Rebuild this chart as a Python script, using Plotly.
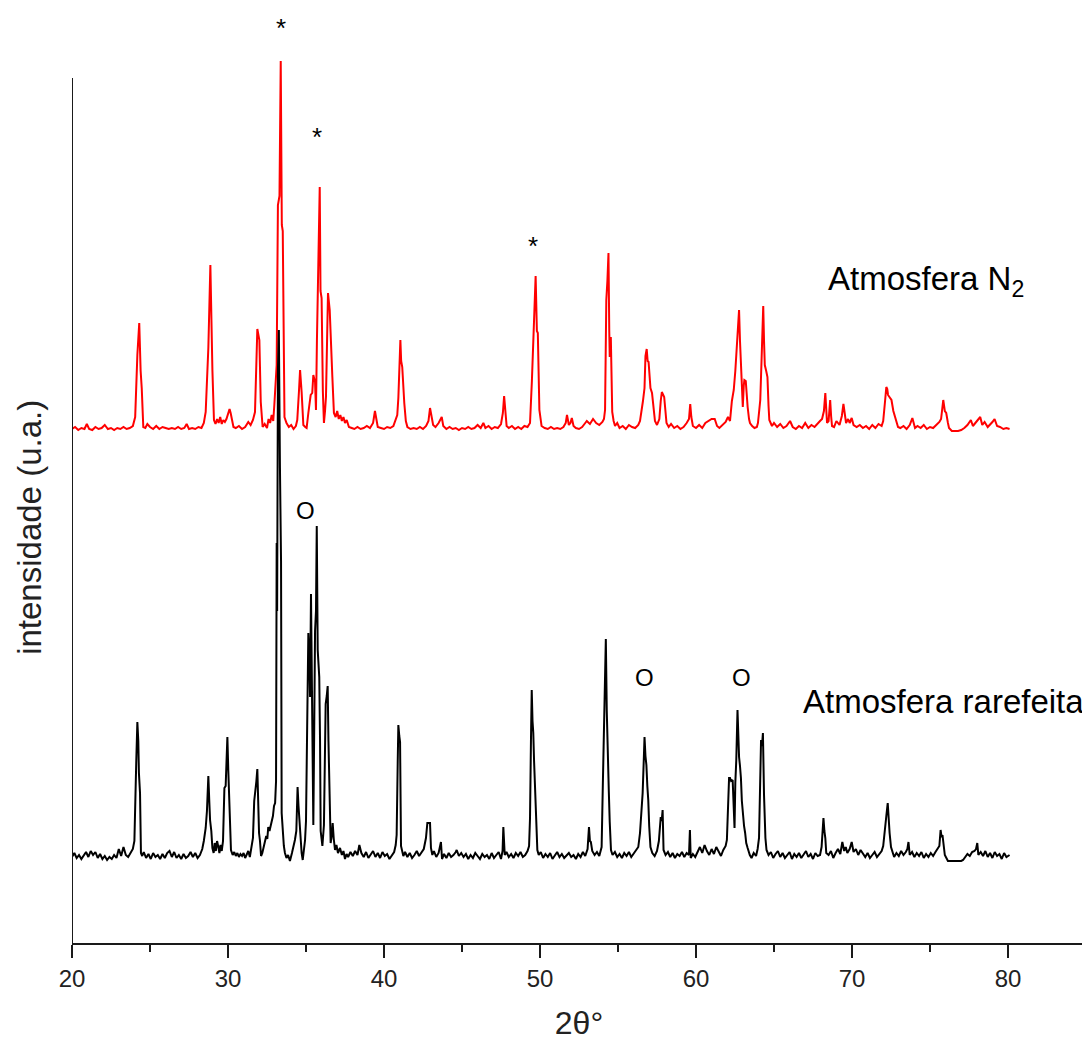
import plotly.graph_objects as go

# ---------------- data ----------------
# (2theta in degrees, intensity above the pattern's own baseline, arbitrary units)
red_pattern = [  # Atmosfera N2
    (20.0, 2), (20.2, 4), (20.4, 1), (20.6, 3), (20.8, 2), (20.95, 7), (21.1, 2), (21.3, 1),
    (21.5, 4), (21.7, 2), (21.9, 3), (22.1, 6), (22.3, 2), (22.5, 3), (22.7, 1), (22.9, 3),
    (23.1, 2), (23.3, 4), (23.5, 2), (23.7, 3), (23.9, 5),
    (24.05, 14), (24.19, 76), (24.31, 108), (24.40, 60), (24.47, 43), (24.57, 4), (24.7, 3),
    (24.83, 7), (25.0, 4), (25.2, 2), (25.4, 5), (25.6, 2), (25.8, 4), (26.0, 3), (26.2, 2),
    (26.4, 3), (26.6, 2), (26.8, 4), (27.0, 2), (27.2, 3), (27.35, 7), (27.5, 2), (27.7, 3),
    (27.9, 2), (28.1, 4), (28.3, 3), (28.45, 8),
    (28.57, 19), (28.74, 83), (28.87, 166), (28.93, 110), (29.0, 61), (29.10, 11), (29.2, 7),
    (29.3, 12), (29.4, 8), (29.5, 14), (29.6, 7), (29.7, 11), (29.8, 9), (29.9, 12), (30.0, 16),
    (30.1, 22), (30.17, 18), (30.25, 12), (30.35, 4), (30.5, 3), (30.7, 5), (30.9, 2), (31.1, 4),
    (31.3, 9), (31.45, 6), (31.6, 11),
    (31.73, 19), (31.88, 102), (31.95, 95), (32.01, 91), (32.10, 29), (32.22, 4), (32.35, 7),
    (32.5, 3), (32.6, 12), (32.7, 8), (32.8, 16), (32.9, 10), (32.97, 26), (33.12, 66),
    (33.20, 226), (33.30, 235), (33.38, 370), (33.45, 206), (33.51, 200), (33.57, 30),
    (33.62, 14), (33.75, 8), (33.9, 4), (34.05, 6), (34.2, 2), (34.35, 5), (34.44, 11),
    (34.55, 40), (34.62, 61), (34.72, 39), (34.78, 15), (34.83, 6), (34.95, 4), (35.04, 3),
    (35.15, 18), (35.30, 36), (35.40, 38), (35.47, 56), (35.58, 49), (35.64, 21), (35.70, 90),
    (35.75, 136), (35.88, 244), (35.93, 140), (36.0, 133), (36.08, 40), (36.15, 8), (36.22, 20),
    (36.28, 34), (36.35, 90), (36.41, 138), (36.52, 121), (36.60, 80), (36.69, 54), (36.79, 18),
    (36.9, 14), (37.0, 20), (37.1, 12), (37.2, 16), (37.3, 10), (37.4, 14), (37.5, 8),
    (37.61, 11), (37.75, 4), (37.93, 3), (38.1, 2), (38.3, 4), (38.5, 2), (38.7, 3), (38.9, 5),
    (39.1, 3), (39.3, 8), (39.42, 20), (39.52, 10), (39.6, 4), (39.8, 3), (40.0, 2), (40.2, 4),
    (40.4, 3), (40.6, 5), (40.75, 12),
    (40.85, 16), (40.92, 33), (41.05, 91), (41.10, 70), (41.17, 64), (41.30, 28), (41.4, 10),
    (41.5, 4), (41.7, 2), (41.9, 3), (42.1, 2), (42.3, 4), (42.5, 2), (42.7, 5), (42.85, 10),
    (42.95, 23), (43.05, 12), (43.15, 6), (43.3, 4), (43.5, 8), (43.7, 14), (43.8, 5), (44.0, 2),
    (44.2, 4), (44.4, 2), (44.6, 3), (44.8, 1), (45.0, 3), (45.2, 2), (45.4, 4), (45.6, 2),
    (45.8, 3), (46.0, 6), (46.2, 3), (46.37, 8), (46.5, 3), (46.7, 5), (46.9, 2), (47.1, 4),
    (47.3, 3), (47.5, 7),
    (47.62, 18), (47.70, 35), (47.78, 15), (47.86, 5), (48.0, 3), (48.2, 5), (48.4, 2), (48.6, 4),
    (48.8, 2), (49.0, 5), (49.2, 4), (49.36, 8),
    (49.48, 50), (49.56, 84), (49.66, 140), (49.72, 155), (49.80, 100), (49.86, 98), (49.96, 21),
    (50.1, 5), (50.3, 3), (50.5, 2), (50.7, 4), (50.9, 2), (51.1, 3), (51.3, 2), (51.5, 4),
    (51.65, 8), (51.73, 16), (51.85, 6), (51.95, 8), (52.04, 13), (52.15, 5), (52.3, 3),
    (52.5, 2), (52.7, 4), (52.9, 8), (53.0, 10), (53.2, 7), (53.4, 12), (53.6, 8), (53.8, 6),
    (54.0, 9), (54.1, 12),
    (54.17, 21), (54.25, 131), (54.32, 150), (54.39, 178), (54.44, 100), (54.47, 74), (54.54, 94),
    (54.63, 19), (54.72, 10), (54.81, 5), (54.95, 8), (55.1, 3), (55.3, 5), (55.5, 2), (55.7, 6),
    (55.9, 4), (56.1, 3), (56.3, 6), (56.41, 10), (56.5, 18),
    (56.6, 30), (56.70, 43), (56.76, 75), (56.84, 82), (56.90, 70), (56.96, 69), (57.08, 43),
    (57.18, 38), (57.28, 20), (57.37, 10), (57.5, 6), (57.65, 12), (57.74, 30), (57.81, 39),
    (57.96, 34), (58.05, 20), (58.11, 8), (58.25, 4), (58.4, 7), (58.6, 3), (58.8, 5), (59.0, 2),
    (59.2, 4), (59.4, 8), (59.55, 12), (59.63, 27), (59.70, 14), (59.8, 5), (60.0, 3), (60.2, 6),
    (60.4, 3), (60.6, 8), (60.8, 10), (61.0, 12), (61.2, 12), (61.35, 5), (61.5, 3), (61.7, 6),
    (61.9, 9), (62.05, 14), (62.18, 10),
    (62.3, 30), (62.42, 41), (62.52, 60), (62.59, 78), (62.70, 105), (62.76, 121), (62.82, 90),
    (62.88, 64), (63.0, 24), (63.06, 45), (63.10, 51), (63.19, 50), (63.25, 30), (63.31, 24),
    (63.40, 12), (63.46, 8), (63.6, 5), (63.75, 3), (63.9, 4), (63.97, 8),
    (64.05, 20), (64.12, 31), (64.2, 70), (64.31, 125), (64.36, 90), (64.41, 66), (64.50, 60),
    (64.58, 54), (64.65, 25), (64.70, 11), (64.87, 5), (65.0, 8), (65.2, 4), (65.4, 7), (65.6, 3),
    (65.8, 5), (66.03, 10), (66.2, 4), (66.4, 2), (66.6, 5), (66.8, 3), (67.0, 8), (67.2, 3),
    (67.4, 6), (67.6, 4), (67.8, 8), (67.95, 10), (68.08, 12),
    (68.2, 20), (68.29, 38), (68.36, 15), (68.40, 8), (68.5, 10), (68.60, 31), (68.66, 15),
    (68.72, 5), (68.85, 4), (69.0, 10), (69.2, 6), (69.35, 15), (69.45, 27), (69.55, 14),
    (69.62, 8), (69.75, 12), (69.85, 8), (69.98, 13), (70.1, 6), (70.3, 4), (70.5, 6), (70.7, 3),
    (70.9, 5), (71.1, 2), (71.3, 6), (71.5, 3), (71.7, 7), (71.9, 5), (72.0, 10),
    (72.12, 30), (72.20, 44), (72.26, 42), (72.31, 36), (72.40, 34), (72.53, 31), (72.65, 20),
    (72.77, 14), (72.95, 4), (73.1, 3), (73.3, 5), (73.5, 2), (73.7, 6), (73.87, 13), (73.95, 8),
    (74.04, 3), (74.2, 5), (74.4, 3), (74.6, 6), (74.8, 2), (75.0, 4), (75.2, 3), (75.4, 6),
    (75.6, 9), (75.71, 12), (75.80, 25), (75.85, 31), (75.95, 20), (76.04, 18), (76.15, 8),
    (76.22, 3), (76.4, 0), (76.6, 0), (76.8, 0), (77.0, 1), (77.2, 3), (77.4, 6), (77.62, 11),
    (77.75, 5), (77.9, 8), (78.05, 10), (78.22, 14), (78.35, 6), (78.5, 9), (78.7, 4), (78.9, 7),
    (79.0, 9), (79.14, 12), (79.3, 5), (79.49, 4), (79.7, 2), (79.9, 3), (80.1, 2),
]

black_pattern = [  # Atmosfera rarefeita
    (20.0, 4), (20.15, 8), (20.3, 3), (20.45, 6), (20.6, 2), (20.75, 5), (20.9, 9), (21.05, 4),
    (21.2, 10), (21.35, 6), (21.5, 9), (21.65, 3), (21.8, 7), (21.95, 2), (22.1, 5), (22.25, 1),
    (22.4, 4), (22.55, 2), (22.7, 6), (22.85, 3), (23.0, 12), (23.15, 5), (23.3, 14), (23.45, 6),
    (23.6, 4), (23.75, 8), (23.9, 12), (24.0, 20),
    (24.04, 64), (24.12, 100), (24.19, 139), (24.25, 120), (24.29, 88), (24.36, 68), (24.42, 8),
    (24.5, 5), (24.6, 9), (24.75, 3), (24.9, 7), (25.05, 2), (25.2, 8), (25.35, 4), (25.5, 6),
    (25.65, 2), (25.8, 7), (25.95, 3), (26.1, 8), (26.25, 10), (26.4, 4), (26.55, 9), (26.7, 3),
    (26.85, 6), (27.0, 2), (27.15, 7), (27.3, 3), (27.45, 5), (27.6, 9), (27.75, 4), (27.9, 8),
    (28.05, 3), (28.2, 6), (28.35, 12), (28.45, 20),
    (28.57, 33), (28.65, 50), (28.74, 85), (28.80, 60), (28.85, 41), (28.93, 30), (29.0, 13),
    (29.08, 8), (29.15, 18), (29.22, 10), (29.3, 20), (29.38, 14), (29.45, 8), (29.52, 16),
    (29.6, 10), (29.68, 20),
    (29.77, 73), (29.85, 75), (29.96, 124), (30.02, 90), (30.08, 64), (30.14, 40), (30.19, 11),
    (30.3, 6), (30.4, 9), (30.5, 5), (30.6, 8), (30.7, 4), (30.8, 7), (30.9, 5), (31.0, 8),
    (31.1, 3), (31.2, 7), (31.3, 10), (31.4, 4), (31.5, 12), (31.6, 23),
    (31.68, 60), (31.75, 68), (31.82, 80), (31.88, 92), (31.93, 50), (31.99, 28), (32.05, 20),
    (32.12, 5), (32.2, 8), (32.3, 15), (32.37, 19), (32.45, 25), (32.52, 22), (32.58, 34),
    (32.66, 30), (32.74, 36), (32.80, 38), (32.88, 45), (32.95, 55), (33.02, 58), (33.08, 80),
    (33.12, 318), (33.15, 250), (33.2, 490), (33.26, 531), (33.33, 393), (33.40, 300),
    (33.44, 48), (33.50, 28), (33.58, 15), (33.65, 8), (33.75, 3), (33.85, 6), (33.97, 0),
    (34.1, 8), (34.2, 14), (34.29, 21), (34.38, 30), (34.46, 74), (34.52, 55), (34.57, 41),
    (34.66, 13), (34.72, 8), (34.79, 1), (34.87, 15), (34.94, 21), (35.0, 40), (35.04, 91),
    (35.1, 160), (35.15, 228), (35.22, 200), (35.26, 164), (35.32, 267), (35.36, 200),
    (35.41, 164), (35.47, 36), (35.52, 120), (35.58, 230), (35.64, 250), (35.69, 335),
    (35.75, 211), (35.80, 200), (35.85, 184), (35.9, 120), (35.94, 30), (36.0, 22), (36.05, 15),
    (36.15, 36), (36.2, 100), (36.26, 157), (36.33, 165), (36.39, 175), (36.44, 120),
    (36.49, 88), (36.54, 40), (36.58, 18), (36.65, 25), (36.71, 38), (36.78, 22), (36.86, 11),
    (36.95, 16), (37.05, 8), (37.18, 13), (37.3, 6), (37.4, 10), (37.5, 2), (37.6, 7), (37.7, 4),
    (37.85, 9), (38.0, 5), (38.15, 10), (38.3, 6), (38.42, 16), (38.55, 8), (38.7, 4),
    (38.85, 9), (39.0, 3), (39.15, 7), (39.3, 10), (39.45, 4), (39.6, 8), (39.75, 3), (39.9, 9),
    (40.05, 5), (40.2, 7), (40.35, 2), (40.5, 6), (40.65, 9), (40.75, 16),
    (40.81, 26), (40.88, 100), (40.92, 136), (40.98, 125), (41.03, 119), (41.09, 15),
    (41.24, 5), (41.35, 9), (41.5, 4), (41.65, 8), (41.8, 3), (41.95, 6), (42.1, 10), (42.25, 5),
    (42.4, 8), (42.55, 12), (42.69, 23), (42.78, 38), (42.84, 38), (42.95, 38), (43.01, 13),
    (43.1, 6), (43.2, 10), (43.35, 4), (43.5, 8), (43.65, 19), (43.72, 2), (43.85, 7), (44.0, 3),
    (44.15, 8), (44.3, 4), (44.45, 6), (44.6, 9), (44.66, 11), (44.8, 5), (44.95, 8), (45.1, 4),
    (45.25, 7), (45.4, 2), (45.55, 6), (45.7, 3), (45.85, 8), (46.0, 5), (46.15, 2), (46.3, 7),
    (46.45, 4), (46.6, 6), (46.75, 2), (46.9, 8), (47.05, 3), (47.2, 6), (47.35, 9), (47.5, 2),
    (47.6, 10), (47.65, 34), (47.70, 20), (47.74, 6), (47.85, 9), (48.0, 4), (48.15, 7),
    (48.3, 3), (48.45, 8), (48.6, 5), (48.75, 9), (48.9, 4), (49.05, 6), (49.2, 10), (49.3, 15),
    (49.36, 43), (49.42, 120), (49.47, 171), (49.52, 140), (49.57, 128), (49.62, 100),
    (49.68, 71), (49.75, 30), (49.83, 11), (49.92, 6), (50.05, 9), (50.2, 3), (50.35, 7),
    (50.5, 4), (50.65, 8), (50.8, 2), (50.95, 6), (51.1, 9), (51.25, 4), (51.4, 7), (51.55, 3),
    (51.7, 6), (51.85, 8), (52.0, 4), (52.15, 6), (52.3, 2), (52.45, 7), (52.6, 4), (52.75, 9),
    (52.9, 5), (53.05, 12), (53.14, 34), (53.2, 20), (53.26, 19), (53.35, 10), (53.5, 6),
    (53.65, 9), (53.8, 5), (53.95, 14),
    (54.03, 78), (54.12, 150), (54.22, 222), (54.28, 150), (54.35, 118), (54.41, 70),
    (54.47, 39), (54.55, 11), (54.65, 6), (54.8, 9), (54.95, 4), (55.1, 7), (55.25, 3),
    (55.4, 8), (55.55, 5), (55.7, 9), (55.85, 4), (56.0, 7), (56.15, 10), (56.3, 14), (56.41, 28),
    (56.5, 50), (56.58, 68), (56.65, 100), (56.70, 124), (56.76, 105), (56.82, 96), (56.88, 75),
    (56.94, 61), (57.0, 35), (57.08, 14), (57.2, 8), (57.35, 5), (57.5, 10), (57.62, 20),
    (57.74, 44), (57.80, 40), (57.86, 51), (57.92, 11), (58.05, 6), (58.2, 9), (58.35, 4),
    (58.5, 8), (58.65, 3), (58.8, 7), (58.95, 5), (59.1, 9), (59.25, 4), (59.4, 8), (59.55, 6),
    (59.61, 31), (59.66, 3), (59.8, 7), (59.95, 4), (60.1, 9), (60.25, 14), (60.4, 8),
    (60.55, 16), (60.7, 10), (60.85, 6), (61.0, 12), (61.15, 7), (61.3, 14), (61.45, 9),
    (61.6, 5), (61.75, 11), (61.9, 15), (61.98, 21),
    (62.05, 50), (62.12, 83), (62.18, 83), (62.25, 80), (62.35, 81), (62.42, 60), (62.47, 33),
    (62.52, 78), (62.58, 100), (62.66, 151), (62.72, 110), (62.76, 104), (62.82, 95),
    (62.88, 83), (62.94, 60), (63.0, 48), (63.08, 35), (63.15, 28), (63.22, 18), (63.31, 13),
    (63.45, 6), (63.56, 3), (63.7, 8), (63.85, 5), (63.95, 12), (64.04, 23),
    (64.1, 80), (64.17, 121), (64.23, 115), (64.29, 128), (64.36, 66), (64.41, 40), (64.45, 23),
    (64.52, 11), (64.65, 6), (64.8, 9), (64.95, 3), (65.1, 7), (65.25, 10), (65.4, 4), (65.55, 8),
    (65.7, 3), (65.85, 6), (66.0, 9), (66.15, 2), (66.3, 7), (66.45, 4), (66.6, 8), (66.75, 3),
    (66.9, 6), (67.05, 10), (67.2, 4), (67.35, 7), (67.5, 2), (67.65, 8), (67.8, 5), (67.95, 6),
    (68.05, 14), (68.12, 30), (68.17, 43), (68.23, 30), (68.29, 23), (68.35, 8), (68.5, 6),
    (68.65, 10), (68.8, 3), (68.95, 8), (69.1, 12), (69.25, 7), (69.38, 19), (69.5, 10),
    (69.6, 14), (69.7, 8), (69.85, 12), (69.98, 19), (70.1, 9), (70.25, 12), (70.4, 6),
    (70.55, 11), (70.7, 8), (70.85, 4), (71.0, 8), (71.15, 3), (71.3, 6), (71.45, 9), (71.6, 4),
    (71.75, 7), (71.9, 10), (72.0, 15),
    (72.08, 30), (72.12, 36), (72.2, 45), (72.29, 58), (72.35, 35), (72.41, 28), (72.5, 14),
    (72.6, 10), (72.7, 4), (72.85, 8), (73.0, 5), (73.15, 10), (73.3, 6), (73.45, 9),
    (73.55, 12), (73.62, 19), (73.7, 6), (73.85, 9), (74.0, 4), (74.15, 8), (74.3, 5),
    (74.45, 9), (74.6, 3), (74.75, 7), (74.9, 4), (75.05, 8), (75.2, 5), (75.35, 9), (75.5, 12),
    (75.6, 15), (75.68, 31), (75.74, 24), (75.8, 26), (75.88, 14), (75.95, 6), (76.05, 3),
    (76.15, 0), (76.4, 0), (76.7, 0), (77.0, 0), (77.12, 1), (77.25, 4), (77.4, 7), (77.55, 5),
    (77.7, 9), (77.85, 10), (77.95, 12), (78.03, 18), (78.1, 6), (78.25, 9), (78.4, 5),
    (78.55, 10), (78.7, 4), (78.85, 8), (79.0, 3), (79.15, 9), (79.3, 5), (79.45, 7), (79.6, 2),
    (79.75, 8), (79.9, 4), (80.1, 6),
]

# vertical stacking offsets of the two patterns (u.a.)
red_offset = 512
black_offset = 82

x_ticks = [20, 30, 40, 50, 60, 70, 80]

star_2theta = [33.38, 35.69, 49.53]       # peaks marked with *
star_level = [915, 806, 697]
circle_2theta = [34.94, 56.73, 62.90]     # peaks marked with O
circle_level = [433, 266, 266]

series_labels = ["Atmosfera N<sub>2</sub>", "Atmosfera rarefeita"]
x_title = "2θ°"
y_title = "intensidade (u.a.)"

# ---------------- figure ----------------
red_x = [p[0] for p in red_pattern]
red_y = [p[1] + red_offset for p in red_pattern]
black_x = [p[0] for p in black_pattern]
black_y = [p[1] + black_offset for p in black_pattern]

FONT = "Liberation Sans, Arial, sans-serif"
AXIS_COLOR = "#1a1a1a"

fig = go.Figure()
fig.add_trace(go.Scatter(x=red_x, y=red_y, mode="lines", name="Atmosfera N2",
                         line=dict(color="#ff0000", width=2)))
fig.add_trace(go.Scatter(x=black_x, y=black_y, mode="lines", name="Atmosfera rarefeita",
                         line=dict(color="#000000", width=2)))

annotations = []
for x, y in zip(star_2theta, star_level):
    annotations.append(dict(x=x, y=y, xref="x", yref="y", text="*", showarrow=False,
                            font=dict(family=FONT, size=26, color="#000")))
for x, y in zip(circle_2theta, circle_level):
    annotations.append(dict(x=x, y=y, xref="x", yref="y", text="O", showarrow=False,
                            font=dict(family=FONT, size=24, color="#000")))
annotations.append(dict(x=68.35, y=662, xref="x", yref="y", text=series_labels[0],
                        showarrow=False, xanchor="left", yanchor="middle",
                        font=dict(family=FONT, size=33, color="#000")))
annotations.append(dict(x=66.7, y=242, xref="x", yref="y", text=series_labels[1],
                        showarrow=False, xanchor="left", yanchor="middle",
                        font=dict(family=FONT, size=33, color="#000")))
# y-axis title, placed left of the axis line (centred a little below the plot middle)
annotations.append(dict(x=-0.0414, y=0.445, xref="paper", yref="paper", text=y_title,
                        textangle=-90, showarrow=False, xanchor="center", yanchor="middle",
                        font=dict(family=FONT, size=33, color="#222")))

# the page adds an 8 px body margin, so the figure is 8 px smaller than the window
fig.update_layout(
    width=1082, height=1033,
    margin=dict(l=64, r=4, t=2, b=98, autoexpand=False),
    paper_bgcolor="white", plot_bgcolor="white",
    showlegend=False,
    font=dict(family=FONT, color="#000"),
    annotations=annotations,
    shapes=[dict(type="line", xref="x", yref="y", x0=20, x1=20, y0=0, y1=865,
                 line=dict(color=AXIS_COLOR, width=2))],
    xaxis=dict(
        range=[20, 85], tickmode="array", tickvals=x_ticks, automargin=False,
        ticks="outside", ticklen=13, tickwidth=2, tickcolor=AXIS_COLOR,
        minor=dict(dtick=5, tick0=20, ticks="outside", ticklen=7, tickwidth=2,
                   tickcolor=AXIS_COLOR, showgrid=False),
        showline=True, linecolor=AXIS_COLOR, linewidth=2,
        showgrid=False, zeroline=False,
        tickfont=dict(family=FONT, size=24, color="#222"),
        title=dict(text=x_title, font=dict(family=FONT, size=32, color="#222"), standoff=24),
    ),
    yaxis=dict(
        range=[0, 933], showticklabels=False, ticks="", showgrid=False, automargin=False,
        zeroline=False, showline=False,
    ),
)

fig.write_html("out.html")
